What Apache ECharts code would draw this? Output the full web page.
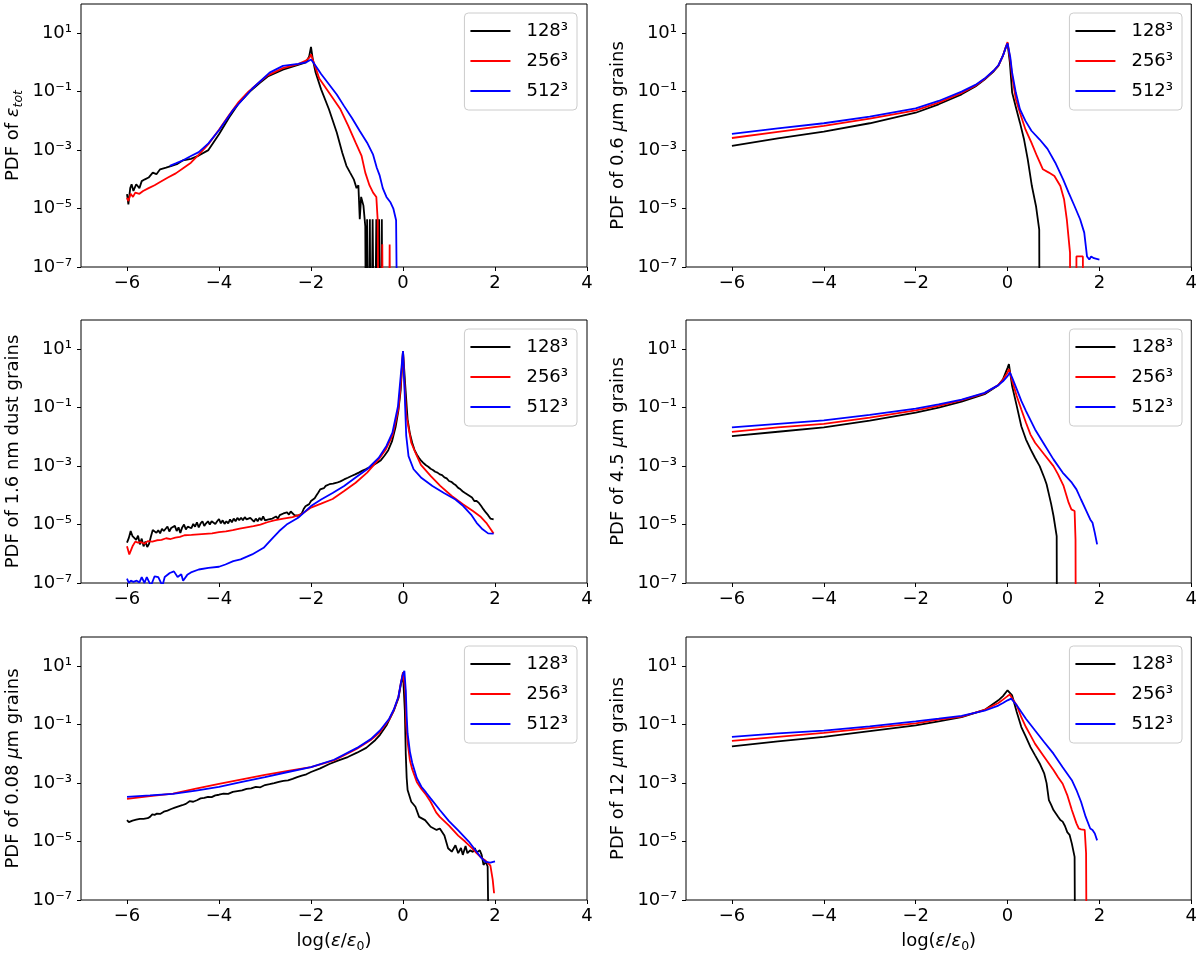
<!DOCTYPE html>
<html>
<head>
<meta charset="utf-8">
<script src="https://cdn.jsdelivr.net/npm/echarts@6/dist/echarts.min.js"></script>
<style>
  html, body { margin: 0; padding: 0; background: #fff; }
  #chart { width: 1200px; height: 954px; }
</style>
</head>
<body>
<div id="chart"></div>
<script>
// empty histogram bin (drawn below the log axis and clipped)
var EMPTY = 1e-12;

var resolutions = ['128³', '256³', '512³'];
var xTicks = [-6, -4, -2, 0, 2, 4];
var yTicks = [1e-7, 1e-5, 1e-3, 1e-1, 10];

// PDF of eps_tot
var tot128 = [[-6.00, 3.1e-5], [-5.97, 1.4e-5], [-5.93, 5e-5], [-5.90, 6.8e-5], [-5.86, 4e-5], [-5.80, 6.8e-5], [-5.73, 5e-5], [-5.68, 8.7e-5], [-5.61, 1.0e-4], [-5.53, 1.15e-4], [-5.44, 1.7e-4], [-5.36, 1.5e-4], [-5.28, 2.2e-4], [-5.15, 2.5e-4], [-5.03, 2.9e-4], [-4.90, 3.4e-4], [-4.78, 4.5e-4], [-4.61, 5e-4], [-4.44, 6.5e-4], [-4.23, 1.0e-3], [-4.00, 3.5e-3], [-3.78, 1.3e-2], [-3.57, 4.0e-2], [-3.33, 0.1], [-3.11, 0.2], [-2.94, 0.33], [-2.61, 0.57], [-2.28, 0.82], [-2.11, 1.0], [-2.04, 1.6], [-2.00, 3.4], [-1.96, 1.26], [-1.90, 0.45], [-1.78, 0.12], [-1.61, 0.025], [-1.44, 4e-3], [-1.32, 8.1e-4], [-1.23, 2.9e-4], [-1.15, 1.7e-4], [-1.07, 1e-4], [-1.01, 5e-5], [-0.97, 6.3e-5], [-0.94, 4.3e-6], [-0.91, 2.5e-5], [-0.86, 1.26e-5], [-0.82, 2.5e-6], [-0.80, EMPTY], [-0.78, 4.3e-6], [-0.76, EMPTY], [-0.72, 4.3e-6], [-0.70, EMPTY], [-0.66, 4.3e-6], [-0.64, 4.3e-6], [-0.62, EMPTY], [-0.58, 4.3e-6], [-0.56, EMPTY], [-0.52, 4.3e-6], [-0.50, EMPTY], [-0.46, 4.3e-6], [-0.44, EMPTY]];
var tot256 = [[-6.00, 2.3e-5], [-5.97, 1.8e-5], [-5.92, 3.2e-5], [-5.87, 2.5e-5], [-5.82, 3.5e-5], [-5.73, 3.2e-5], [-5.65, 4e-5], [-5.53, 5e-5], [-5.40, 6.3e-5], [-5.28, 8.1e-5], [-5.11, 1.15e-4], [-4.94, 1.6e-4], [-4.78, 2.4e-4], [-4.61, 3.7e-4], [-4.44, 7e-4], [-4.23, 1.6e-3], [-4.00, 5e-3], [-3.78, 1.6e-2], [-3.57, 4.5e-2], [-3.36, 0.1], [-3.11, 0.22], [-2.94, 0.36], [-2.61, 0.64], [-2.28, 0.88], [-2.11, 1.15], [-2.03, 1.5], [-2.00, 1.9], [-1.93, 0.9], [-1.82, 0.28], [-1.61, 0.093], [-1.36, 0.025], [-1.19, 6.8e-3], [-1.03, 1.8e-3], [-0.90, 6.3e-4], [-0.82, 1.7e-4], [-0.73, 6.3e-5], [-0.65, 3.5e-5], [-0.58, 2.5e-5], [-0.55, 4e-6], [-0.52, EMPTY], [-0.47, EMPTY], [-0.45, 6e-7], [-0.43, EMPTY], [-0.31, EMPTY], [-0.29, 5.9e-7], [-0.27, EMPTY], [-0.20, EMPTY]];
var tot512 = [[-5.07, 2.9e-4], [-4.94, 3.5e-4], [-4.78, 4.5e-4], [-4.61, 6.3e-4], [-4.44, 8.5e-4], [-4.23, 1.7e-3], [-4.00, 4.8e-3], [-3.69, 2.4e-2], [-3.28, 0.126], [-2.90, 0.45], [-2.61, 0.76], [-2.28, 0.9], [-2.11, 1.0], [-2.00, 1.26], [-1.93, 0.9], [-1.78, 0.4], [-1.61, 0.18], [-1.44, 0.08], [-1.28, 0.032], [-1.11, 0.0126], [-0.94, 4.5e-3], [-0.78, 1.8e-3], [-0.65, 7e-4], [-0.57, 2.5e-4], [-0.51, 1.4e-4], [-0.44, 5e-5], [-0.36, 2.5e-5], [-0.27, 1.6e-5], [-0.21, 1e-5], [-0.15, 4e-6], [-0.11, EMPTY]];

// PDF of 0.6 um grains
var g06_128 = [[-6, 1.4e-3], [-5, 2.5e-3], [-4, 4.3e-3], [-3, 8.3e-3], [-2, 0.019], [-1.5, 0.037], [-1, 0.081], [-0.7, 0.15], [-0.5, 0.26], [-0.3, 0.5], [-0.2, 0.76], [-0.1, 1.7], [-0.04, 3.2], [0.0, 4.5], [0.02, 4.8], [0.05, 1.0], [0.1, 0.093], [0.18, 0.03], [0.27, 8.7e-3], [0.36, 2.3e-3], [0.44, 4.8e-4], [0.53, 5.9e-5], [0.62, 1.2e-5], [0.69, 1.9e-6], [0.70, EMPTY]];
var g06_256 = [[-6, 2.6e-3], [-5, 4.2e-3], [-4, 6.7e-3], [-3, 0.012], [-2, 0.023], [-1.5, 0.042], [-1, 0.09], [-0.7, 0.16], [-0.5, 0.27], [-0.3, 0.52], [-0.2, 0.78], [-0.1, 1.7], [-0.04, 3.3], [0.0, 5.0], [0.03, 5.5], [0.06, 1.2], [0.1, 0.35], [0.18, 0.055], [0.27, 0.019], [0.39, 5.1e-3], [0.52, 1.8e-3], [0.64, 6.3e-4], [0.77, 2.2e-4], [0.9, 1.7e-4], [1.02, 1.3e-4], [1.15, 5.9e-5], [1.23, 2.1e-5], [1.29, 4.3e-6], [1.36, 3.1e-7], [1.37, EMPTY], [1.49, EMPTY], [1.50, 2.3e-7], [1.64, 2.3e-7], [1.65, EMPTY]];
var g06_512 = [[-6, 3.6e-3], [-5, 5.5e-3], [-4, 8.3e-3], [-3, 0.014], [-2, 0.027], [-1.5, 0.048], [-1, 0.1], [-0.7, 0.17], [-0.5, 0.28], [-0.3, 0.53], [-0.2, 0.8], [-0.1, 1.7], [-0.04, 3.2], [0.0, 4.5], [0.03, 5.0], [0.06, 1.5], [0.1, 0.45], [0.18, 0.093], [0.27, 0.025], [0.39, 0.01], [0.52, 4.6e-3], [0.7, 2.3e-3], [0.87, 1.1e-3], [1.04, 3.7e-4], [1.21, 1e-4], [1.33, 3.5e-5], [1.46, 1.2e-5], [1.58, 4.3e-6], [1.67, 1.5e-6], [1.73, 2.3e-7], [1.78, 1.8e-7], [1.82, 2.3e-7], [1.88, 2.0e-7], [2.0, 1.8e-7]];

// PDF of 1.6 nm dust grains
var d16_128 = [[-6.00, 2.4e-6], [-5.96, 3.5e-6], [-5.92, 6.0e-6], [-5.88, 4.0e-6], [-5.84, 4.6e-6], [-5.80, 3.0e-6], [-5.76, 4.2e-6], [-5.72, 2.1e-6], [-5.68, 3.3e-6], [-5.64, 1.8e-6], [-5.60, 2.6e-6], [-5.56, 1.7e-6], [-5.52, 2.2e-6], [-5.48, 3.9e-6], [-5.44, 6.5e-6], [-5.40, 7.5e-6], [-5.36, 5.2e-6], [-5.32, 6.4e-6], [-5.28, 5.0e-6], [-5.24, 7.2e-6], [-5.20, 6.0e-6], [-5.16, 7.0e-6], [-5.12, 8.6e-6], [-5.08, 5.8e-6], [-5.04, 7.6e-6], [-5.00, 6.6e-6], [-4.96, 9.0e-6], [-4.92, 6.0e-6], [-4.88, 8.0e-6], [-4.84, 5.2e-6], [-4.80, 8.0e-6], [-4.76, 1.0e-5], [-4.72, 6.8e-6], [-4.68, 8.5e-6], [-4.64, 9.5e-6], [-4.60, 7.5e-6], [-4.56, 1.05e-5], [-4.52, 8.5e-6], [-4.48, 1.2e-5], [-4.44, 8.0e-6], [-4.40, 1.1e-5], [-4.36, 1.3e-5], [-4.32, 9.0e-6], [-4.28, 1.1e-5], [-4.24, 1.3e-5], [-4.20, 1.0e-5], [-4.16, 1.3e-5], [-4.12, 1.4e-5], [-4.08, 1.05e-5], [-4.04, 1.3e-5], [-4.00, 1.55e-5], [-3.96, 1.1e-5], [-3.92, 1.4e-5], [-3.88, 1.05e-5], [-3.84, 1.3e-5], [-3.80, 1.1e-5], [-3.76, 1.5e-5], [-3.72, 1.2e-5], [-3.68, 1.6e-5], [-3.64, 1.3e-5], [-3.60, 1.7e-5], [-3.56, 1.4e-5], [-3.52, 1.7e-5], [-3.48, 1.4e-5], [-3.44, 1.8e-5], [-3.40, 1.5e-5], [-3.36, 1.3e-5], [-3.32, 1.7e-5], [-3.28, 1.5e-5], [-3.24, 1.25e-5], [-3.20, 1.6e-5], [-3.16, 1.3e-5], [-3.12, 1.7e-5], [-3.08, 1.4e-5], [-3.04, 1.9e-5], [-3.00, 1.4e-5], [-2.96, 1.2e-5], [-2.92, 1.5e-5], [-2.88, 1.3e-5], [-2.84, 1.6e-5], [-2.80, 1.4e-5], [-2.76, 1.9e-5], [-2.72, 1.6e-5], [-2.68, 2.1e-5], [-2.64, 1.9e-5], [-2.60, 2.4e-5], [-2.56, 2.1e-5], [-2.52, 2.6e-5], [-2.48, 2.2e-5], [-2.44, 2.8e-5], [-2.40, 2.4e-5], [-2.36, 2.1e-5], [-2.32, 2.4e-5], [-2.28, 2.0e-5], [-2.24, 2.3e-5], [-2.20, 2.4e-5], [-2.16, 3.4e-5], [-2.12, 4.2e-5], [-2.08, 3.9e-5], [-2.04, 5.0e-5], [-2.00, 6.4e-5], [-1.96, 6.0e-5], [-1.92, 8.0e-5], [-1.88, 1.0e-4], [-1.84, 1.25e-4], [-1.80, 1.6e-4], [-1.76, 1.8e-4], [-1.72, 1.75e-4], [-1.68, 2.1e-4], [-1.64, 2.0e-4], [-1.60, 2.4e-4], [-1.52, 2.5e-4], [-1.44, 2.7e-4], [-1.36, 3.0e-4], [-1.28, 3.5e-4], [-1.20, 4.0e-4], [-1.12, 4.6e-4], [-1.04, 5.2e-4], [-0.96, 6.0e-4], [-0.88, 7.0e-4], [-0.80, 8.0e-4], [-0.72, 9.0e-4], [-0.64, 1.1e-3], [-0.56, 1.3e-3], [-0.48, 1.6e-3], [-0.40, 2.3e-3], [-0.32, 3.5e-3], [-0.24, 7.0e-3], [-0.16, 2.2e-2], [-0.10, 8.0e-2], [-0.05, 0.4], [-0.02, 2.5], [0.00, 8.7], [0.02, 8.0], [0.05, 0.55], [0.10, 0.04], [0.15, 1.3e-2], [0.20, 6.3e-3], [0.25, 3.6e-3], [0.30, 2.5e-3], [0.35, 1.9e-3], [0.40, 1.5e-3], [0.45, 1.25e-3], [0.50, 1.07e-3], [0.55, 9.5e-4], [0.60, 8.1e-4], [0.65, 7.4e-4], [0.70, 6.4e-4], [0.75, 6.0e-4], [0.80, 5.2e-4], [0.85, 4.9e-4], [0.90, 4.1e-4], [0.95, 3.8e-4], [1.00, 3.1e-4], [1.05, 2.9e-4], [1.10, 2.5e-4], [1.15, 2.2e-4], [1.20, 1.8e-4], [1.25, 1.6e-4], [1.30, 1.35e-4], [1.35, 1.2e-4], [1.40, 1.07e-4], [1.45, 9.5e-5], [1.50, 8.4e-5], [1.55, 6.4e-5], [1.60, 6.4e-5], [1.65, 5.5e-5], [1.70, 4.3e-5], [1.75, 3.3e-5], [1.80, 2.6e-5], [1.85, 2.1e-5], [1.90, 1.6e-5], [1.97, 1.5e-5]];
var d16_256 = [[-6.00, 1.8e-6], [-5.95, 9.5e-7], [-5.88, 1.8e-6], [-5.82, 2.6e-6], [-5.76, 2.4e-6], [-5.70, 2.5e-6], [-5.62, 2.2e-6], [-5.55, 2.7e-6], [-5.45, 2.6e-6], [-5.35, 2.9e-6], [-5.25, 3.0e-6], [-5.15, 3.4e-6], [-5.05, 3.2e-6], [-4.95, 3.6e-6], [-4.85, 3.8e-6], [-4.75, 4.3e-6], [-4.60, 4.4e-6], [-4.45, 4.6e-6], [-4.30, 4.8e-6], [-4.15, 5.0e-6], [-4.00, 5.5e-6], [-3.85, 5.8e-6], [-3.70, 6.4e-6], [-3.55, 7.2e-6], [-3.40, 8.0e-6], [-3.25, 8.8e-6], [-3.10, 1.0e-5], [-2.95, 1.2e-5], [-2.80, 1.4e-5], [-2.60, 1.6e-5], [-2.40, 1.8e-5], [-2.20, 2.3e-5], [-2.00, 3.8e-5], [-1.78, 5.2e-5], [-1.53, 7.5e-5], [-1.28, 1.4e-4], [-1.03, 2.7e-4], [-0.78, 6.0e-4], [-0.53, 1.7e-3], [-0.37, 3.8e-3], [-0.23, 1.1e-2], [-0.10, 8.9e-2], [-0.05, 0.6], [0.00, 8.7], [0.03, 0.8], [0.07, 0.06], [0.10, 0.031], [0.18, 6.3e-3], [0.27, 2.9e-3], [0.39, 1.1e-3], [0.60, 4.6e-4], [0.81, 2.1e-4], [1.06, 9.5e-5], [1.31, 4.9e-5], [1.52, 2.9e-5], [1.68, 1.9e-5], [1.81, 1.15e-5], [1.97, 4.9e-6]];
var d16_512 = [[-6.00, 1.4e-7], [-5.96, 1.0e-7], [-5.92, 1.2e-7], [-5.86, 1.1e-7], [-5.79, 1.2e-7], [-5.73, 1.05e-7], [-5.68, 1.6e-7], [-5.62, 1.0e-7], [-5.57, 1.6e-7], [-5.48, 8e-8], [-5.40, 1.7e-7], [-5.32, 1.6e-7], [-5.23, 8e-8], [-5.18, 1.6e-7], [-5.07, 2.2e-7], [-4.98, 2.5e-7], [-4.90, 1.6e-7], [-4.82, 2.0e-7], [-4.78, 1.2e-7], [-4.69, 1.9e-7], [-4.61, 2.3e-7], [-4.44, 2.9e-7], [-4.23, 3.3e-7], [-4.00, 3.6e-7], [-3.86, 4.3e-7], [-3.69, 5.6e-7], [-3.53, 6.4e-7], [-3.28, 9.5e-7], [-3.03, 1.6e-6], [-2.86, 3.1e-6], [-2.69, 6.0e-6], [-2.53, 1.0e-5], [-2.28, 1.7e-5], [-2.00, 4.3e-5], [-1.78, 7.2e-5], [-1.53, 1.2e-4], [-1.28, 2.1e-4], [-1.03, 4.1e-4], [-0.78, 7.8e-4], [-0.53, 1.9e-3], [-0.36, 4.9e-3], [-0.23, 1.4e-2], [-0.11, 0.11], [-0.05, 1.2], [0.00, 8.7], [0.03, 0.6], [0.07, 1.1e-2], [0.12, 2.2e-3], [0.23, 7.8e-4], [0.39, 4.1e-4], [0.64, 2.1e-4], [0.89, 1.2e-4], [1.14, 7.2e-5], [1.31, 4.3e-5], [1.48, 2.2e-5], [1.60, 1.15e-5], [1.73, 6.9e-6], [1.85, 5.0e-6], [1.97, 4.9e-6]];

// PDF of 4.5 um grains
var g45_128 = [[-6, 0.0107], [-5, 0.015], [-4, 0.021], [-3, 0.036], [-2, 0.068], [-1.5, 0.1], [-1, 0.16], [-0.5, 0.29], [-0.2, 0.59], [-0.1, 0.93], [0.0, 2.3], [0.03, 3.1], [0.1, 0.55], [0.2, 0.115], [0.3, 0.023], [0.4, 8.3e-3], [0.5, 3.8e-3], [0.6, 1.9e-3], [0.7, 1.0e-3], [0.8, 4.0e-4], [0.85, 2.4e-4], [0.9, 1.1e-4], [0.95, 5.0e-5], [1.0, 2.0e-5], [1.07, 4.0e-6], [1.08, EMPTY]];
var g45_256 = [[-6, 0.0148], [-5, 0.021], [-4, 0.028], [-3, 0.046], [-2, 0.081], [-1.5, 0.115], [-1, 0.18], [-0.5, 0.31], [-0.2, 0.6], [-0.1, 0.9], [0.0, 1.6], [0.03, 2.1], [0.1, 0.83], [0.2, 0.25], [0.3, 0.087], [0.4, 0.031], [0.5, 0.012], [0.6, 6.3e-3], [0.8, 2.5e-3], [1.0, 1.0e-3], [1.1, 5.2e-4], [1.22, 2.1e-4], [1.33, 5.6e-5], [1.39, 3.3e-5], [1.46, 2.9e-5], [1.48, 3.1e-6], [1.49, EMPTY]];
var g45_512 = [[-6, 0.021], [-5, 0.028], [-4, 0.037], [-3, 0.057], [-2, 0.093], [-1.5, 0.13], [-1, 0.19], [-0.5, 0.32], [-0.2, 0.59], [-0.1, 0.8], [0.0, 1.2], [0.05, 1.6], [0.1, 1.07], [0.2, 0.43], [0.3, 0.17], [0.4, 0.078], [0.6, 0.018], [0.8, 5.5e-3], [1.0, 1.7e-3], [1.2, 6e-4], [1.4, 2.7e-4], [1.5, 1.6e-4], [1.6, 7.2e-5], [1.7, 3.3e-5], [1.8, 1.5e-5], [1.85, 1.15e-5], [1.9, 5.2e-6], [1.95, 2.1e-6]];

// PDF of 0.08 um grains
var g008_128 = [[-6.00, 5.4e-5], [-5.96, 4.6e-5], [-5.92, 4.2e-5], [-5.88, 5.2e-5], [-5.84, 5.0e-5], [-5.80, 5.6e-5], [-5.76, 5.3e-5], [-5.72, 6.0e-5], [-5.68, 5.8e-5], [-5.64, 6.0e-5], [-5.60, 5.7e-5], [-5.55, 6.3e-5], [-5.50, 7.0e-5], [-5.45, 8.5e-5], [-5.40, 8.2e-5], [-5.35, 9.0e-5], [-5.28, 8.8e-5], [-5.20, 1.05e-4], [-5.12, 1.15e-4], [-5.04, 1.3e-4], [-4.96, 1.45e-4], [-4.88, 1.6e-4], [-4.80, 1.75e-4], [-4.72, 1.95e-4], [-4.64, 2.4e-4], [-4.56, 2.3e-4], [-4.48, 2.6e-4], [-4.40, 3.0e-4], [-4.32, 3.1e-4], [-4.24, 3.4e-4], [-4.16, 3.3e-4], [-4.08, 3.8e-4], [-4.00, 4.0e-4], [-3.90, 4.4e-4], [-3.80, 4.3e-4], [-3.70, 5.0e-4], [-3.60, 5.3e-4], [-3.50, 5.6e-4], [-3.40, 6.3e-4], [-3.30, 6.6e-4], [-3.20, 7.4e-4], [-3.10, 7.2e-4], [-3.00, 8.6e-4], [-2.90, 9.2e-4], [-2.80, 1.0e-3], [-2.70, 1.1e-3], [-2.60, 1.2e-3], [-2.50, 1.25e-3], [-2.40, 1.4e-3], [-2.30, 1.6e-3], [-2.20, 1.8e-3], [-2.10, 2.0e-3], [-2.00, 2.4e-3], [-1.80, 3.2e-3], [-1.60, 4.5e-3], [-1.40, 6.0e-3], [-1.20, 7.8e-3], [-1.00, 1.1e-2], [-0.80, 1.6e-2], [-0.60, 3.0e-2], [-0.50, 4.5e-2], [-0.35, 0.1], [-0.20, 0.3], [-0.10, 0.8], [-0.05, 2.2], [0.00, 5.5], [0.02, 6.3], [0.04, 0.3], [0.06, 0.01], [0.08, 1.5e-3], [0.10, 5.8e-4], [0.18, 2.3e-4], [0.27, 1.55e-4], [0.35, 7e-5], [0.48, 5.4e-5], [0.60, 3.2e-5], [0.73, 2.5e-5], [0.80, 2.8e-5], [0.90, 1.6e-5], [0.98, 5.9e-6], [1.06, 4.5e-6], [1.14, 7.5e-6], [1.20, 4.0e-6], [1.26, 6.0e-6], [1.30, 3.5e-6], [1.36, 7.0e-6], [1.40, 4.0e-6], [1.46, 5.0e-6], [1.52, 4.4e-6], [1.56, 6.0e-6], [1.60, 4.2e-6], [1.67, 5.0e-6], [1.71, 3.5e-6], [1.75, 1.6e-6], [1.80, 2.0e-6], [1.84, 1.4e-6], [1.88, 1.6e-6], [1.89, EMPTY]];
var g008_256 = [[-6, 2.9e-4], [-5.5, 3.6e-4], [-5, 4.4e-4], [-4.5, 6.5e-4], [-4, 9.5e-4], [-3.5, 1.35e-3], [-3, 1.9e-3], [-2.5, 2.6e-3], [-2, 3.5e-3], [-1.5, 6e-3], [-1, 0.015], [-0.7, 0.03], [-0.5, 0.056], [-0.3, 0.15], [-0.2, 0.31], [-0.1, 0.87], [-0.05, 2.5], [0.0, 6.3], [0.03, 5.5], [0.05, 1.5], [0.07, 0.1], [0.1, 0.025], [0.15, 6e-3], [0.2, 3e-3], [0.3, 1.1e-3], [0.4, 6.3e-4], [0.5, 4e-4], [0.6, 2.3e-4], [0.72, 1e-4], [0.8, 7e-5], [1.0, 3.5e-5], [1.2, 1.6e-5], [1.35, 1e-5], [1.5, 6e-6], [1.6, 4e-6], [1.7, 2.8e-6], [1.8, 2.2e-6], [1.9, 1.5e-6], [1.95, 5e-7], [1.98, 1.7e-7]];
var g008_512 = [[-6, 3.4e-4], [-5.5, 3.8e-4], [-5, 4.3e-4], [-4.5, 5.5e-4], [-4, 7.4e-4], [-3.5, 1.1e-3], [-3, 1.6e-3], [-2.5, 2.4e-3], [-2, 3.5e-3], [-1.5, 6.3e-3], [-1, 0.016], [-0.7, 0.032], [-0.5, 0.063], [-0.3, 0.16], [-0.2, 0.33], [-0.1, 0.9], [-0.05, 2.5], [0.0, 5.5], [0.03, 7.0], [0.06, 1.5], [0.08, 0.2], [0.1, 0.05], [0.15, 0.012], [0.2, 5e-3], [0.3, 1.5e-3], [0.4, 7.5e-4], [0.5, 4.8e-4], [0.6, 3e-4], [0.8, 1.2e-4], [1.0, 5e-5], [1.2, 2.4e-5], [1.43, 1e-5], [1.6, 4.5e-6], [1.7, 2.8e-6], [1.8, 2e-6], [1.9, 1.9e-6], [2.0, 2.1e-6]];

// PDF of 12 um grains
var g12_128 = [[-6, 0.018], [-5, 0.027], [-4, 0.038], [-3, 0.06], [-2, 0.095], [-1.5, 0.13], [-1, 0.18], [-0.5, 0.32], [-0.2, 0.68], [-0.1, 0.95], [0.0, 1.5], [0.03, 1.7], [0.1, 1.0], [0.2, 0.27], [0.3, 0.083], [0.4, 0.038], [0.5, 0.017], [0.6, 8.9e-3], [0.7, 4.7e-3], [0.8, 2.1e-3], [0.85, 1e-3], [0.9, 2.6e-4], [0.95, 1.8e-4], [1.0, 1.2e-4], [1.1, 7.1e-5], [1.15, 5.5e-5], [1.2, 4.8e-5], [1.25, 3.4e-5], [1.3, 2.1e-5], [1.35, 1.7e-5], [1.4, 8.5e-6], [1.46, 3e-6], [1.48, EMPTY]];
var g12_256 = [[-6, 0.028], [-5, 0.038], [-4, 0.052], [-3, 0.076], [-2, 0.11], [-1.5, 0.15], [-1, 0.19], [-0.5, 0.32], [-0.2, 0.55], [-0.1, 0.72], [0.0, 0.95], [0.05, 1.07], [0.1, 0.8], [0.2, 0.46], [0.3, 0.18], [0.4, 0.083], [0.5, 0.043], [0.6, 0.022], [0.8, 7.8e-3], [1.0, 2.8e-3], [1.1, 1.6e-3], [1.2, 9.5e-4], [1.3, 3.9e-4], [1.4, 1.2e-4], [1.5, 4.2e-5], [1.55, 2.8e-5], [1.6, 2.6e-5], [1.68, 2.5e-5], [1.71, 4e-6], [1.73, EMPTY]];
var g12_512 = [[-6, 0.038], [-5, 0.05], [-4, 0.063], [-3, 0.088], [-2, 0.13], [-1.5, 0.16], [-1, 0.2], [-0.5, 0.3], [-0.2, 0.45], [-0.1, 0.55], [0.0, 0.68], [0.08, 0.78], [0.1, 0.72], [0.2, 0.46], [0.3, 0.27], [0.4, 0.16], [0.6, 0.063], [0.8, 0.025], [1.0, 0.0102], [1.2, 3.5e-3], [1.4, 1.26e-3], [1.5, 5.8e-4], [1.6, 2.3e-4], [1.7, 7.1e-5], [1.8, 2.8e-5], [1.85, 2.5e-5], [1.9, 1.9e-5], [1.95, 1.1e-5]];

var yNames = [
	'PDF of {i|ε}{s|tot}',
	'PDF of 0.6 {i|μ}m grains',
	'PDF of 1.6 nm dust grains',
	'PDF of 4.5 {i|μ}m grains',
	'PDF of 0.08 {i|μ}m grains',
	'PDF of 12 {i|μ}m grains'
];
var xName = 'log({i|ε}/{i|ε}{n|0})';

var panelData = [
	[tot128, tot256, tot512],
	[g06_128, g06_256, g06_512],
	[d16_128, d16_256, d16_512],
	[g45_128, g45_256, g45_512],
	[g008_128, g008_256, g008_512],
	[g12_128, g12_256, g12_512]
];

(function () {
	var FONT = 'DejaVu Sans';
	var colors = ['#000000', '#ff0000', '#0000ff'];
	var colLeft = [81, 686];
	var rowTop = [4, 320, 637];
	var gridW = 506, gridH = 263;

	var supMap = { '-': '⁻', '0': '⁰', '1': '¹', '2': '²', '3': '³', '4': '⁴', '5': '⁵', '6': '⁶', '7': '⁷', '8': '⁸', '9': '⁹' };
	function pow10Label(v) {
		var e = String(Math.round(Math.log(v) / Math.LN10));
		return '10' + e.split('').map(function (c) { return supMap[c]; }).join('');
	}

	var richName = {
		i: { fontStyle: 'italic', fontSize: 18, fontFamily: FONT, lineHeight: 24, verticalAlign: 'middle' },
		s: { fontStyle: 'italic', fontSize: 12.5, fontFamily: FONT, lineHeight: 24, verticalAlign: 'bottom' },
		n: { fontSize: 12.5, fontFamily: FONT, lineHeight: 24, verticalAlign: 'bottom' }
	};

	var grids = [], xAxes = [], yAxes = [], legends = [], series = [];

	panelData.forEach(function (data, i) {
		var col = i % 2, row = Math.floor(i / 2);
		grids.push({
			left: colLeft[col], top: rowTop[row], width: gridW, height: gridH,
			show: true, borderColor: '#000', borderWidth: 1, backgroundColor: 'transparent'
		});
		xAxes.push({
			gridIndex: i, type: 'value', min: -7, max: 4,
			axisLine: { show: false, onZero: false },
			splitLine: { show: false },
			axisTick: { customValues: xTicks, length: 4, lineStyle: { color: '#000', width: 1 } },
			axisLabel: {
				customValues: xTicks, margin: 7, fontSize: 18, color: '#000', fontFamily: FONT,
				formatter: function (v) { return String(v).replace('-', '−'); }
			},
			name: row === 2 ? xName : '',
			nameLocation: 'middle', nameGap: 29,
			nameTextStyle: { fontSize: 18, color: '#000', fontFamily: FONT, lineHeight: 24, rich: richName }
		});
		yAxes.push({
			gridIndex: i, type: 'log', logBase: 10, min: 1e-7, max: 100,
			axisLine: { show: false, onZero: false },
			splitLine: { show: false },
			minorTick: { show: false },
			axisTick: { customValues: yTicks, length: 4, lineStyle: { color: '#000', width: 1 } },
			axisLabel: {
				customValues: yTicks, margin: 9, fontSize: 18, color: '#000', fontFamily: FONT,
				formatter: pow10Label
			},
			name: yNames[i],
			nameLocation: 'middle', nameGap: 56, nameRotate: 90,
			nameTextStyle: { fontSize: 18, color: '#000', fontFamily: FONT, lineHeight: 24, rich: richName }
		});
		legends.push({
			orient: 'vertical',
			right: 1200 - (colLeft[col] + gridW - 10),
			top: rowTop[row] + 9,
			data: resolutions,
			selectedMode: false,
			icon: 'rect',
			itemWidth: 40, itemHeight: 2, itemGap: 10,
			padding: [8, 9, 9, 6],
			backgroundColor: 'rgba(255,255,255,0.8)',
			borderColor: '#cccccc', borderWidth: 1, borderRadius: 4,
			textStyle: { fontSize: 18, color: '#000', fontFamily: FONT, lineHeight: 20, padding: [0, 0, 0, 11] }
		});
		data.forEach(function (d, k) {
			series.push({
				name: resolutions[k],
				type: 'line',
				xAxisIndex: i, yAxisIndex: i,
				data: d,
				symbol: 'none', showSymbol: false,
				clip: true,
				lineStyle: { width: 1.8, color: colors[k] },
				itemStyle: { color: colors[k] }
			});
		});
	});

	var chart = echarts.init(document.getElementById('chart'));
	chart.setOption({
		backgroundColor: '#ffffff',
		animation: false,
		textStyle: { fontFamily: FONT },
		grid: grids,
		xAxis: xAxes,
		yAxis: yAxes,
		legend: legends,
		series: series
	});
})();
</script>
</body>
</html>
